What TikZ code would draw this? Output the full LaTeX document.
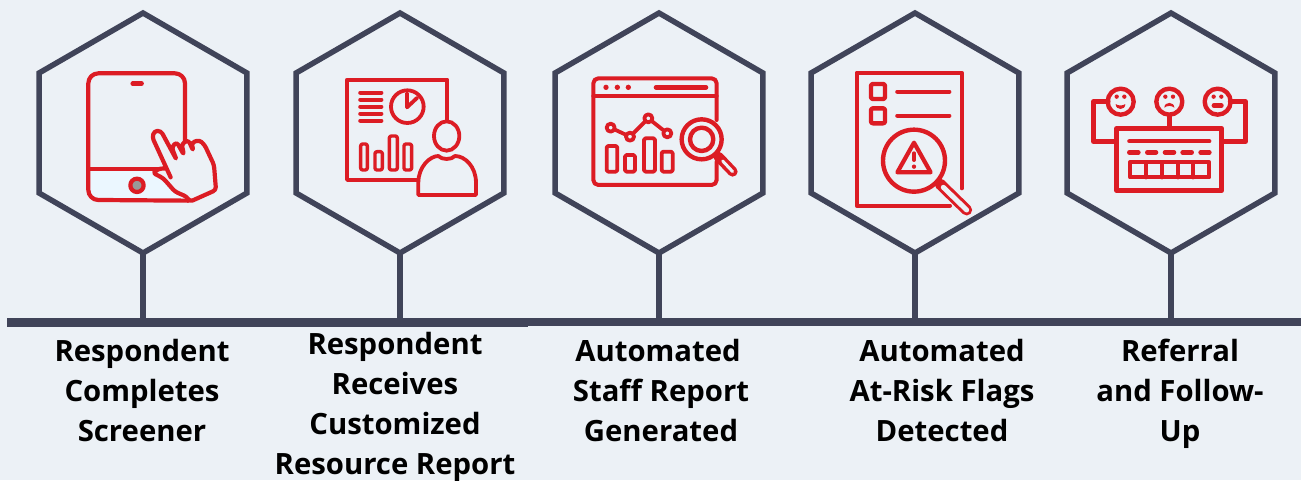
\documentclass[tikz,border=0pt]{standalone}
\usepackage{fontspec}
\setmainfont{Open Sans}
\usetikzlibrary{positioning,shapes.geometric}
\definecolor{bgblue}{HTML}{ECF1F6}
\definecolor{barnavy}{HTML}{404459}
\definecolor{iconred}{HTML}{DC1C24}
\tikzset{
  hexa/.style={regular polygon,regular polygon sides=6,shape border rotate=30,draw=barnavy,line width=5.5pt,
    minimum size=240pt,inner sep=0pt,outer sep=0pt},
  stem/.style={draw=barnavy,line width=5.5pt},
  caption/.style={align=center,font=\bfseries\fontsize{29.3}{40}\selectfont,text=black,inner sep=0pt},
  icon/.style={draw=iconred,line width=#1,line cap=round,line join=round},
  icon/.default=4.2pt,
  icon at/.style 2 args={shift={(#1,#2)},x=0.3333pt,y=-0.3333pt},
}
\begin{document}
\begin{tikzpicture}[x=1pt,y=-1pt,node distance=257pt,on grid]
  \fill[bgblue] (0,0) rectangle (1301,480);
  \useasboundingbox (0,0) rectangle (1301,480);
  % timeline
  \fill[barnavy] (7,318) rectangle (528,327);
  \fill[barnavy] (528,318) rectangle (1301,326);
  \coordinate (bar1) at (143,320);
  \coordinate (bar2) at (400,320);
  \coordinate (bar3) at (659,320);
  \coordinate (bar4) at (915,320);
  \coordinate (bar5) at (1171,320);
  % hexagons
  \node[hexa] (hex1) at (143,133) {};
  \node[hexa] (hex2) [right=of hex1] {};
  \node[hexa] (hex3) [right=259pt of hex2] {};
  \node[hexa] (hex4) [right=256pt of hex3] {};
  \node[hexa] (hex5) [right=256pt of hex4] {};
  \foreach \n in {1,...,5}
    \draw[stem] (hex\n.south) -- (bar\n);
  % captions
  \node[caption] (cap1) at (142,391) {Respondent\\Completes\\Screener};
  \node[caption] (cap2) at (395,407) {Respondent\\Receives\\Customized\\Resource Report};
  \node[caption] (cap3) at (661,391) {\hspace*{-6pt}Automated\\Staff Report\\Generated};
  \node[caption] (cap4) at (942,391) {Automated\\At-Risk Flags\\Detected};
  \node[caption] (cap5) at (1180,394) {Referral\\and Follow-\\Up};
  % tablet
  \begin{scope}[icon at={60}{50}]
    \fill[blue!40!cyan!8] (90,358) -- (375,358) -- (375,450) -- (90,450) -- cycle;
    \draw[icon] (375,275) -- (375,100) arc[start angle=0,end angle=-90,radius=30] -- (115,70)
      arc[start angle=-90,end angle=-180,radius=30] -- (85,420)
      arc[start angle=180,end angle=90,radius=30] -- (385,452);
    \draw[icon] (85,358) -- (300,358);
    \draw[icon,line width=4.4pt] (218,101) -- (245,101);
    \draw[icon,fill=gray!80] (231,406) circle (20);
    \draw[icon,fill=bgblue,rounded corners=3pt] (332,382) -- (277,262) -- (283,243) -- (303,243) -- (350,330)
      -- (335,292) -- (350,276) -- (372,315) -- (365,282) -- (385,270) -- (400,303) -- (395,278) -- (418,270)
      -- (434,285) -- (462,345) -- (468,420) -- (390,455) -- (380,440) -- (345,425) -- (310,385) -- (278,368)
      -- (300,355) -- (318,356);
  \end{scope}
  % presenter with board
  \begin{scope}[icon at={330}{60}]
    \draw[icon,line width=3.8pt] (352,182) -- (352,59) -- (51,59) -- (51,360) -- (265,360);
    \foreach \yrow in {98,119,140,161,182}
      \draw[icon] (91,\yrow) -- (154,\yrow);
    \draw[icon,line width=3.8pt] (232,140) circle (49);
    \draw[icon,line width=3.8pt] (262,113) -- (231,142) -- (231,100);
    \foreach \xa/\xb/\ytop in {92/112/252,135/157/275,178/202/228,222/245/252}
      \draw[icon,line width=3.4pt,rounded corners=2pt] (\xa,\ytop) rectangle (\xb,330);
    \draw[icon,line width=3.8pt] (350,228) ellipse (38 and 44);
    \draw[icon,line width=3.8pt] (265,405) -- (265,368) .. controls (265,320) and (300,288) .. (325,288)
      .. controls (335,300) and (365,300) .. (375,288) .. controls (405,288) and (438,320) .. (438,368)
      -- (438,405) -- cycle;
  \end{scope}
  % browser window with chart
  \begin{scope}[icon at={580}{60}]
    \draw[icon,line width=4pt,rounded corners=5pt] (410,180) -- (410,55) -- (40,55) -- (40,375) -- (410,375) -- (410,305);
    \draw[icon,line width=4pt] (40,108) -- (410,108);
    \foreach \xdot in {78,112,145}
      \fill[iconred] (\xdot,82) circle (8);
    \draw[icon,line width=4.6pt] (228,82) -- (378,82);
    \foreach \xa/\xb/\ytop in {80/112/258,135/165/285,192/225/235,245/278/275}
      \draw[icon,line width=3.8pt,rounded corners=1.5pt] (\xa,\ytop) rectangle (\xb,335);
    \draw[icon,line width=3.8pt] (92,203) -- (150,230) -- (205,175) -- (262,220);
    \foreach \xp/\yp in {92/203,150/230,205/175,262/220}
      \draw[icon,line width=3.8pt,fill=bgblue] (\xp,\yp) circle (12);
    \draw[icon,line width=10pt] (415,290) -- (458,335);
    \draw[bgblue,line width=3pt,line cap=round] (428,303) -- (458,335);
    \draw[icon,line width=4.4pt,fill=bgblue] (365,238) circle (60);
    \draw[icon,line width=4.4pt] (365,238) circle (35);
  \end{scope}
  % report with warning
  \begin{scope}[icon at={840}{60}]
    \draw[icon,line width=4pt] (365,385) -- (365,38) -- (50,38) -- (50,437) -- (330,437);
    \foreach \ybox in {72,145}
      \draw[icon,line width=4.4pt,rounded corners=2pt] (93,\ybox) rectangle +(42,45);
    \draw[icon] (172,95) -- (328,95);
    \draw[icon] (172,167) -- (328,167);
    \draw[icon,line width=11pt] (300,372) -- (380,450);
    \draw[bgblue,line width=5pt,line cap=round] (310,382) -- (380,450);
    \draw[icon,line width=4.4pt,fill=bgblue] (222,302) circle (93);
    \draw[icon,line width=4.2pt] (222,248) -- (172,337) -- (272,337) -- cycle;
    \draw[icon,line width=4pt] (222,280) -- (222,300);
    \fill[iconred] (222,320) circle (6.5);
  \end{scope}
  % feedback panel
  \begin{scope}[icon at={1080}{70}]
    \draw[icon,line width=4.4pt] (85,95) -- (40,95) -- (40,215) -- (110,215);
    \draw[icon,line width=4.4pt] (450,95) -- (497,95) -- (497,215) -- (425,215);
    \draw[icon,line width=4.4pt] (268,135) -- (268,175);
    \foreach \xface in {122,268,413}
      \draw[icon,line width=4.4pt] (\xface,95) circle (39);
    \foreach \xface in {122,268,413}
      \foreach \xeye in {-12,11}
        \fill[iconred] (\xface+\xeye,80) circle (6.5);
    \fill[iconred] (107,102) .. controls (115,108) and (128,108) .. (136,102) .. controls (136,122) and (107,122) .. (107,102);
    \fill[iconred] (253,113) .. controls (253,94) and (283,94) .. (283,113) .. controls (275,106) and (261,106) .. (253,113);
    \draw[icon,line width=4.8pt] (402,107) -- (424,107);
    \draw[icon,line width=4.8pt] (110,175) rectangle (425,362);
    \draw[icon,line width=4.2pt] (148,214) -- (388,214);
    \foreach \xa/\xb in {148/175,202/228,255/282,308/335,362/388}
      \draw[icon,line width=4.6pt] (\xa,247) -- (\xb,247);
    \draw[icon,line width=4.2pt] (150,277) rectangle (388,322);
    \foreach \xkey in {198,245,293,340}
      \draw[icon,line width=4.2pt] (\xkey,277) -- (\xkey,322);
  \end{scope}
\end{tikzpicture}
\end{document}
